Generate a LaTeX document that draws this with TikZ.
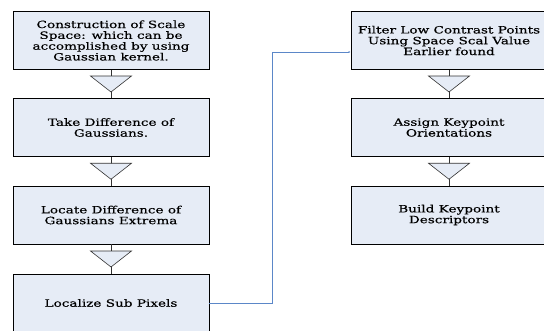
\documentclass[tikz,border=0pt]{standalone}
\usepackage{fontspec}
\usepackage{xcolor}
\usepackage{tikz}
\usetikzlibrary{calc,arrows.meta}
\newfontfamily\boxfont[FakeStretch=1.36,FakeBold=0.4]{DejaVu Serif}
\definecolor{boxfill}{HTML}{E6ECF6}
\definecolor{wire}{HTML}{5B87C8}
\tikzset{
  box/.style={draw=black, fill=boxfill, line width=0.9pt, minimum width=196pt, minimum height=58pt,
    inner sep=0pt, align=center, font=\boxfont\fontsize{10}{10.8}\selectfont},
  tri/.style={draw=black!80, fill=boxfill, line width=0.6pt, line join=miter},
  stem/.style={draw=black!80, line width=0.6pt},
  link/.style={draw=wire, line width=0.8pt, -{Latex[length=2pt,width=2pt]}},
}

\begin{document}
\begin{tikzpicture}[x=1pt,y=1pt]
  \useasboundingbox (0,0) rectangle (544,-330);
  \clip (0,0) rectangle (544,-330);
  % left column
  \node[box] (c1) at (111,-40.5) {Construction of Scale\\Space: which can be\\accomplished by using\\Gaussian kernel.};
  \node[box] (c2) at (111,-127.5) {Take Difference of\\Gaussians.};
  \node[box] (c3) at (111,-215) {Locate Difference of\\Gaussians Extrema};
  \node[box] (c4) at (111,-303) {Localize Sub Pixels};
  % right column
  \node[box] (f1) at (449,-40.5) {Filter Low Contrast Points\\Using Space Scal Value\\Earlier found};
  \node[box] (f2) at (449,-127.5) {Assign Keypoint\\Orientations};
  \node[box] (f3) at (449,-215) {Build Keypoint\\Descriptors};
  % stems with a triangle half way
  \foreach \a/\b in {c1/c2,c2/c3,c3/c4,f1/f2,f2/f3}{
    \coordinate (m-\a) at ($(\a.south)!0.5!(\b.north)$);
    \draw[stem] (\a.south) -- (\b.north);
    \filldraw[tri] ([shift={(-20.5pt,8pt)}]m-\a) -- ([shift={(20.5pt,8pt)}]m-\a) -- ([shift={(0pt,-8pt)}]m-\a) -- cycle;
  }
  % link between columns
  \draw[link] (c4.east) -- ++(63,0) |- ([yshift=-11.5pt]f1.west);
\end{tikzpicture}
\end{document}
